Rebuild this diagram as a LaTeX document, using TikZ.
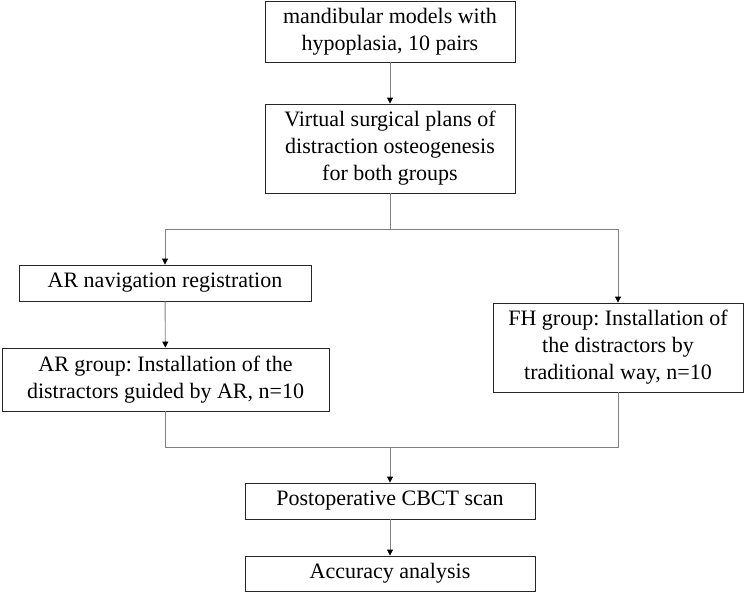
\documentclass[tikz,border=0pt]{standalone}
\usepackage{fontspec}
\setmainfont{Liberation Serif}
\usetikzlibrary{arrows.meta}
\frenchspacing
\begin{document}
\begin{tikzpicture}[x=1pt,y=-1pt,
  box/.style={draw=black!85, line width=0.9pt, align=center, inner sep=0pt, font=\fontsize{22}{27}\selectfont},
  conn/.style={draw=black!50, line width=0.9pt},
  arr/.style={conn, -{Triangle[color=black,fill=black,length=6pt,width=6pt]}}]
\useasboundingbox (0,0) rectangle (744,594);
\node[box, minimum width=250pt, minimum height=61pt] (b1) at (390,31.5) {mandibular models with\\hypoplasia, 10 pairs};
\node[box, minimum width=250pt, minimum height=89pt] (b2) at (390,148.5) {Virtual surgical plans of\\distraction osteogenesis\\for both groups};
\node[box, minimum width=292pt, minimum height=36pt] (b3) at (165,283) {AR navigation registration};
\node[box, minimum width=327pt, minimum height=63pt] (b4) at (165.5,379.5) {AR group: Installation of the\\distractors guided by AR, n=10};
\node[box, minimum width=250pt, minimum height=89pt] (b5) at (618,347.5) {FH group: Installation of\\the distractors by\\traditional way, n=10};
\node[box, minimum width=290pt, minimum height=36pt] (b6) at (390,501) {Postoperative CBCT scan};
\node[box, minimum width=290pt, minimum height=35pt] (b7) at (390,573.5) {Accuracy analysis};
\coordinate (split) at (390,229);
\coordinate (merge) at (390,447);
\draw[arr] (b1) -- (b2);
\draw[conn] (b2.south) -- (split);
\draw[arr] (split) -| (b3.north);
\draw[arr] (split) -| (b5.north);
\draw[arr] (b3) -- (b4);
\draw[conn] (b4.south) |- (merge);
\draw[conn] (b5.south) |- (merge);
\draw[arr] (merge) -- (b6.north);
\draw[arr] (b6) -- (b7);
\end{tikzpicture}
\end{document}
